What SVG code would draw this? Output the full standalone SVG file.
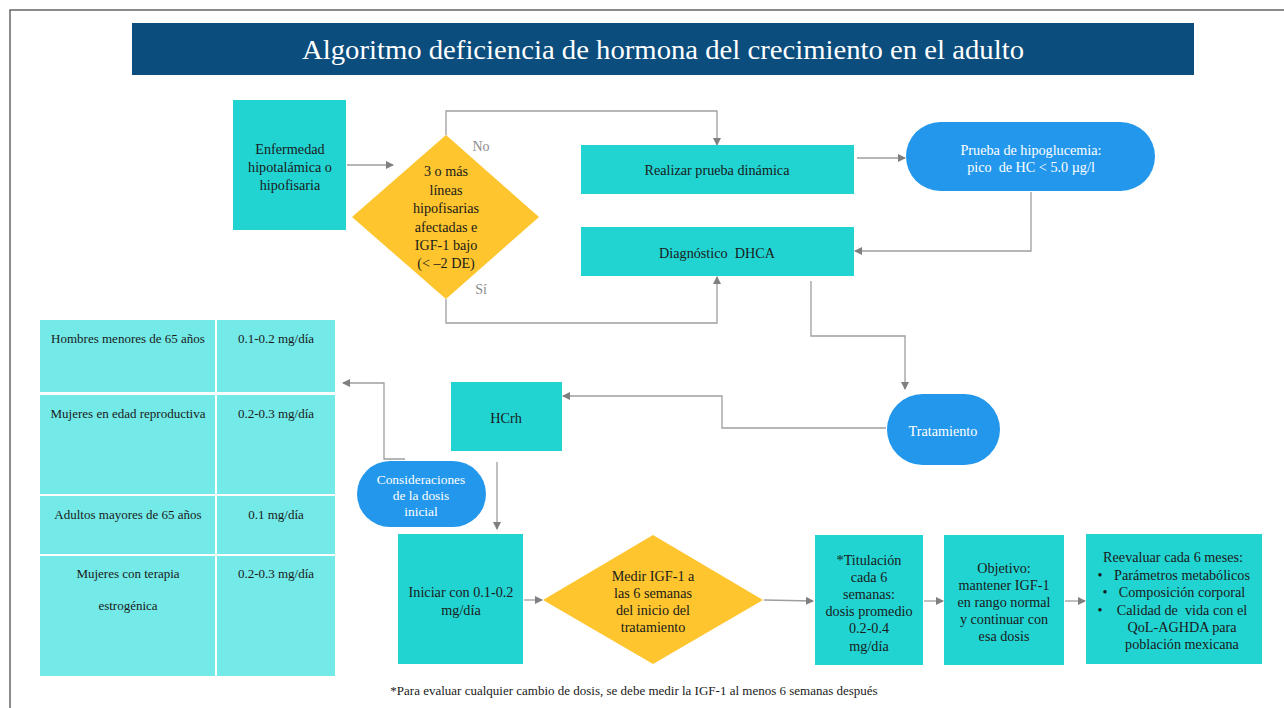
<svg xmlns="http://www.w3.org/2000/svg" width="1284" height="708" viewBox="0 0 1284 708" font-family="'Liberation Serif', 'Times New Roman', serif">
<defs>
<marker id="ah" markerWidth="8" markerHeight="8" refX="7" refY="4" orient="auto" markerUnits="userSpaceOnUse">
<path d="M0,0 L8,4 L0,8 Z" fill="#7f7f7f"/>
</marker>
<style>
text{font-family:'Liberation Serif','Times New Roman',serif;text-anchor:middle}
.t{font-size:14.2px;fill:#1a1a1a}
.w{font-size:14.2px;fill:#ffffff}
.s{font-size:13px;fill:#1a1a1a}
.teal{fill:#21d4d2}
.cyan{fill:#73eae8}
.blue{fill:#2297ec}
.yel{fill:#fec52e}
.ca{fill:none;stroke:#9e9e9e;stroke-width:1.3;marker-end:url(#ah)}
.lbl{font-size:14px;fill:#8c8c8c}
</style>
</defs>
<rect width="1284" height="708" fill="#ffffff"/>
<path d="M10,708 V10 H1284" fill="none" stroke="#666" stroke-width="1.5"/>

<g id="title">
<rect x="132" y="23" width="1062" height="52" fill="#0b4d7d"/>
<text x="663" y="59" style="font-size:27px;fill:#ffffff" textLength="722" lengthAdjust="spacingAndGlyphs">Algoritmo deficiencia de hormona del crecimiento en el adulto</text>
</g>

<g id="connectors">
<line class="ca" x1="347" y1="165" x2="393" y2="165"/>
<path class="ca" d="M446,135 V111 H717 V145"/>
<path class="ca" d="M446,299 V323 H717 V277"/>
<line class="ca" x1="857" y1="158" x2="905" y2="158"/>
<path class="ca" d="M1031,192 V251 H855"/>
<path class="ca" d="M811,281 V336 H905 V389"/>
<path class="ca" d="M886,428 H722 V396 H563"/>
<path class="ca" d="M405,459 H384 V383 H343"/>
<line class="ca" x1="497" y1="462" x2="497" y2="529"/>
<line class="ca" x1="524" y1="600" x2="542" y2="600"/>
<path class="ca" d="M764,600 L813,601"/>
<line class="ca" x1="924" y1="601" x2="943" y2="601"/>
<line class="ca" x1="1065" y1="601" x2="1085" y2="601"/>
</g>

<g id="enfermedad">
<rect class="teal" x="233" y="100" width="113" height="130"/>
<text class="t" x="290" y="154">Enfermedad</text>
<text class="t" x="290" y="172">hipotalámica o</text>
<text class="t" x="290" y="190">hipofisaria</text>
</g>

<g id="decision1">
<polygon class="yel" points="446,135 539,217 446,299 352,217"/>
<text class="t" x="446" y="176">3 o más</text>
<text class="t" x="446" y="195">líneas</text>
<text class="t" x="446" y="213">hipofisarias</text>
<text class="t" x="446" y="232">afectadas e</text>
<text class="t" x="446" y="250">IGF-1 bajo</text>
<text class="t" x="446" y="268">(&lt; –2 DE)</text>
<text class="lbl" x="481" y="151">No</text>
<text class="lbl" x="481" y="294">Sí</text>
</g>

<g id="realizar">
<rect class="teal" x="581" y="145" width="273" height="49"/>
<text class="t" x="717" y="175">Realizar prueba dinámica</text>
</g>

<g id="prueba">
<rect class="blue" x="906" y="122" width="249" height="69" rx="34.5"/>
<text class="w" x="1031" y="155">Prueba de hipoglucemia:</text>
<text class="w" x="1031" y="172" xml:space="preserve">pico  de HC &lt; 5.0 µg/l</text>
</g>

<g id="diagnostico">
<rect class="teal" x="581" y="227" width="273" height="49"/>
<text class="t" x="717" y="258" xml:space="preserve">Diagnóstico  DHCA</text>
</g>

<g id="tratamiento">
<rect class="blue" x="887" y="394" width="113" height="71" rx="35.5"/>
<text class="w" x="943" y="436">Tratamiento</text>
</g>

<g id="hcrh">
<rect class="teal" x="451" y="382" width="111" height="69"/>
<text class="t" x="506" y="423">HCrh</text>
</g>

<g id="consideraciones">
<rect class="blue" x="357" y="461" width="129" height="66" rx="33"/>
<text class="w" x="421" y="484" style="font-size:13.4px">Consideraciones</text>
<text class="w" x="421" y="500" style="font-size:13.4px">de la dosis</text>
<text class="w" x="421" y="516" style="font-size:13.4px">inicial</text>
</g>

<g id="tabla">
<rect class="cyan" x="40" y="320" width="175" height="72"/>
<rect class="cyan" x="217" y="320" width="118" height="72"/>
<rect class="cyan" x="40" y="395" width="175" height="99"/>
<rect class="cyan" x="217" y="395" width="118" height="99"/>
<rect class="cyan" x="40" y="496" width="175" height="58"/>
<rect class="cyan" x="217" y="496" width="118" height="58"/>
<rect class="cyan" x="40" y="556" width="175" height="120"/>
<rect class="cyan" x="217" y="556" width="118" height="120"/>
<text class="s" x="128" y="343">Hombres menores de 65 años</text>
<text class="s" x="276" y="343">0.1-0.2 mg/día</text>
<text class="s" x="128" y="418">Mujeres en edad reproductiva</text>
<text class="s" x="276" y="418">0.2-0.3 mg/día</text>
<text class="s" x="128" y="519">Adultos mayores de 65 años</text>
<text class="s" x="276" y="519">0.1 mg/día</text>
<text class="s" x="128" y="578">Mujeres con terapia</text>
<text class="s" x="128" y="610">estrogénica</text>
<text class="s" x="276" y="578">0.2-0.3 mg/día</text>
</g>

<g id="iniciar">
<rect class="teal" x="398" y="534" width="125" height="130"/>
<text class="t" x="461" y="597">Iniciar con 0.1-0.2</text>
<text class="t" x="461" y="615">mg/día</text>
</g>

<g id="medir">
<polygon class="yel" points="653,535 763,600 653,664 543,600"/>
<text class="t" x="653" y="581">Medir IGF-1 a</text>
<text class="t" x="653" y="598">las 6 semanas</text>
<text class="t" x="653" y="615">del inicio del</text>
<text class="t" x="653" y="632">tratamiento</text>
</g>

<g id="titulacion">
<rect class="teal" x="815" y="535" width="108" height="130"/>
<text class="t" x="869" y="565">*Titulación</text>
<text class="t" x="869" y="582">cada 6</text>
<text class="t" x="869" y="599">semanas:</text>
<text class="t" x="869" y="616">dosis promedio</text>
<text class="t" x="869" y="633">0.2-0.4</text>
<text class="t" x="869" y="651">mg/día</text>
</g>

<g id="objetivo">
<rect class="teal" x="944" y="535" width="120" height="130"/>
<text class="t" x="1004" y="573">Objetivo:</text>
<text class="t" x="1004" y="590">mantener IGF-1</text>
<text class="t" x="1004" y="607">en rango normal</text>
<text class="t" x="1004" y="624">y continuar con</text>
<text class="t" x="1004" y="641">esa dosis</text>
</g>

<g id="reevaluar">
<rect class="teal" x="1086" y="534" width="176" height="130"/>
<text class="t" x="1173" y="562">Reevaluar cada 6 meses:</text>
<text class="t" x="1100" y="580">•</text>
<text class="t" x="1182" y="580">Parámetros metabólicos</text>
<text class="t" x="1105" y="597">•</text>
<text class="t" x="1182" y="597">Composición corporal</text>
<text class="t" x="1100" y="615">•</text>
<text class="t" x="1182" y="615" xml:space="preserve">Calidad de  vida con el</text>
<text class="t" x="1182" y="632">QoL-AGHDA para</text>
<text class="t" x="1182" y="649">población mexicana</text>
</g>

<g id="nota">
<text x="634" y="695" style="font-size:13px;fill:#1a1a1a">*Para evaluar cualquier cambio de dosis, se debe medir la IGF-1 al menos 6 semanas después</text>
</g>
</svg>
